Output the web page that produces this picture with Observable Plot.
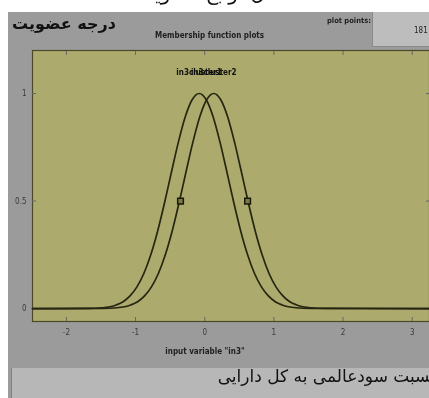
<!DOCTYPE html>
<html>
<head>
<meta charset="utf-8">
<script src="https://cdn.jsdelivr.net/npm/d3@7"></script>
<script src="https://cdn.jsdelivr.net/npm/@observablehq/plot@0.6"></script>
<style>
  html, body { margin: 0; padding: 0; background: #fff; }
  #wrap { position: relative; width: 429px; height: 398px; overflow: hidden; background: #fff; filter: blur(0.5px); }
  .abs { position: absolute; white-space: nowrap; }
  .small { font-family: "Liberation Sans Narrow", "DejaVu Sans Condensed", "Liberation Sans", sans-serif; font-size: 8px; font-weight: bold; color: #1e1e1e; }
  .fa { font-family: "DejaVu Sans", sans-serif; color: #111; direction: rtl; }
  #chart svg { position: absolute; left: 0; top: 0; }
</style>
</head>
<body>
<div id="wrap">
  <div class="abs fa" style="top:-19px;left:0;width:429px;text-align:center;font-size:20px;direction:rtl;">شکل توابع عضویت</div>
  <div class="abs" style="left:8px;top:12px;width:421px;height:386px;background:#9b9b9b;"></div>
  <div class="abs" style="left:372px;top:12px;width:57px;height:34px;background:#bdbdbd;border-left:1px solid #8a8a8a;border-bottom:1px solid #8a8a8a;"></div>
  <div class="abs" style="left:11px;top:368px;width:418px;height:30px;background:#b7b7b7;border-left:1px solid #7f7f7f;"></div>
  <div id="chart"></div>
  <div class="abs fa" style="left:12px;top:14px;font-size:16px;font-weight:bold;">درجه عضویت</div>
  <div class="abs small" style="left:155px;top:31px;width:100px;text-align:center;">Membership function plots</div>
  <div class="abs small" style="left:327px;top:16px;font-size:7.5px;">plot points:</div>
  <div class="abs small" style="left:414px;top:26px;font-weight:normal;">181</div>
  <div class="abs small" style="left:155px;top:347px;width:100px;text-align:center;">input variable "in3"</div>
  <div class="abs fa" style="right:-6px;top:366px;font-size:17px;">نسبت سودعالمی به کل دارایی</div>
</div>
<script>
// Tick values
const xTicks = [-2, -1, 0, 1, 2, 3];
const yTicks = [0, 0.5, 1];

// Membership function names and peak positions
const mfNames = ["in3cluster1", "in3cluster2"];
const mfCenters = [-0.08, 0.13];

// Curve 1 (in3cluster1)
const c1x = [-2.49, -1.68, -1.48, -1.28, -1.18, -1.08, -0.98, -0.88, -0.78, -0.68, -0.58, -0.48, -0.38, -0.28, -0.18, -0.08, 0.02, 0.12, 0.22, 0.32, 0.42, 0.52, 0.62, 0.72, 0.82, 0.92, 1.02, 1.12, 1.32, 1.52, 3.25];
const c1y = [0, 0.001, 0.004, 0.017, 0.032, 0.059, 0.101, 0.163, 0.25, 0.361, 0.493, 0.636, 0.775, 0.893, 0.972, 1, 0.972, 0.893, 0.775, 0.636, 0.493, 0.361, 0.25, 0.163, 0.101, 0.059, 0.032, 0.017, 0.004, 0.001, 0];

// Curve 2 (in3cluster2)
const c2x = [-2.49, -1.47, -1.27, -1.07, -0.97, -0.87, -0.77, -0.67, -0.57, -0.47, -0.37, -0.27, -0.17, -0.07, 0.03, 0.13, 0.23, 0.33, 0.43, 0.53, 0.63, 0.73, 0.83, 0.93, 1.03, 1.13, 1.23, 1.33, 1.53, 1.73, 3.25];
const c2y = [0, 0.001, 0.004, 0.017, 0.032, 0.059, 0.101, 0.163, 0.25, 0.361, 0.493, 0.636, 0.775, 0.893, 0.972, 1, 0.972, 0.893, 0.775, 0.636, 0.493, 0.361, 0.25, 0.163, 0.101, 0.059, 0.032, 0.017, 0.004, 0.001, 0];

// Drag-handle markers on curve 2 at half height
const handleX = [-0.35, 0.62];
const handleY = [0.5, 0.5];

const curve1 = c1x.map((x, i) => ({x, y: c1y[i]}));
const curve2 = c2x.map((x, i) => ({x, y: c2y[i]}));
const labels = mfNames.map((name, i) => ({name, x: mfCenters[i], y: 1}));
const handles = handleX.map((x, i) => ({x, y: handleY[i]}));

const lineColor = "#262612";
const fmt = d => String(d);

const chart = Plot.plot({
  width: 429,
  height: 398,
  marginLeft: 32,
  marginRight: 0,
  marginTop: 50,
  marginBottom: 77,
  style: { background: "transparent", fontFamily: "'Liberation Sans Narrow', 'DejaVu Sans Condensed', sans-serif", fontSize: "8px", color: "#3a3a3a" },
  x: { domain: [-2.49, 3.25] },
  y: { domain: [-0.06, 1.2] },
  marks: [
    Plot.frame({ fill: "#acab6d", stroke: "#4a4a2a", strokeWidth: 1.2 }),
    Plot.axisX({ ticks: xTicks, anchor: "bottom", tickSize: -4, tickPadding: 12, tickFormat: fmt, label: null, stroke: "#666" }),
    Plot.axisX({ ticks: xTicks, anchor: "top", tickSize: -4, tickFormat: () => "", label: null, stroke: "#666" }),
    Plot.axisY({ ticks: yTicks, anchor: "left", tickSize: -4, tickPadding: 10, tickFormat: fmt, label: null, stroke: "#666" }),
    Plot.axisY({ ticks: yTicks, anchor: "right", tickSize: -4, tickFormat: () => "", label: null, stroke: "#666" }),
    Plot.line(curve1, { x: "x", y: "y", stroke: lineColor, strokeWidth: 1.7, curve: "monotone-x" }),
    Plot.line(curve2, { x: "x", y: "y", stroke: lineColor, strokeWidth: 1.7, curve: "monotone-x" }),
    Plot.dot(handles, { x: "x", y: "y", symbol: "square", r: 3.2, stroke: "#1a1a0a", strokeWidth: 1.5, fill: "#7a7a4a" }),
    Plot.text(labels, { x: "x", y: "y", text: "name", dy: -21, fill: "#111", fontWeight: "bold", fontSize: 8 })
  ]
});
document.getElementById("chart").appendChild(chart);
</script>
</body>
</html>
